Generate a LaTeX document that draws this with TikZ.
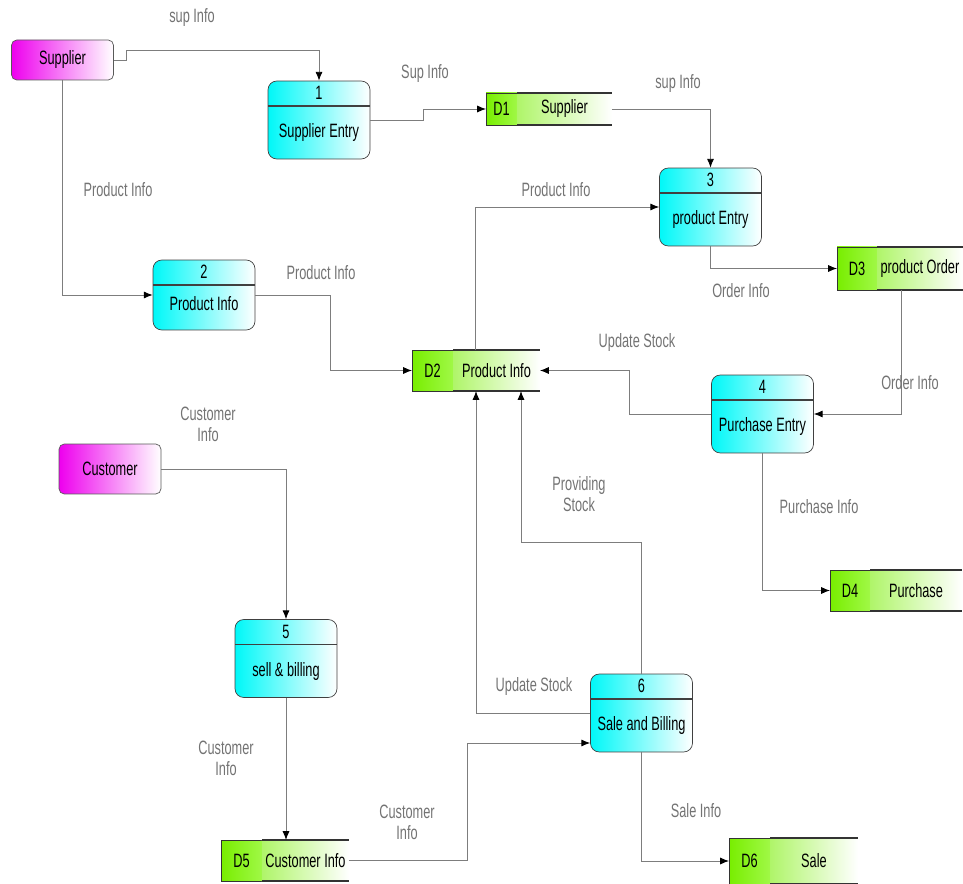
\documentclass[tikz,border=0pt]{standalone}
\usepackage{fontspec}
\setmainfont{Liberation Sans}[FakeStretch=0.66]
\usetikzlibrary{arrows.meta,positioning}

\definecolor{procblue}{RGB}{0,248,248}
\definecolor{entpink}{RGB}{238,0,238}
\definecolor{idgreen}{RGB}{120,238,0}
\definecolor{idgreenr}{RGB}{160,248,70}
\definecolor{namegreen}{RGB}{175,245,105}
\definecolor{flowgray}{RGB}{125,125,125}

\begin{document}
\begin{tikzpicture}[x=0.02cm,y=-0.02cm,font=\fontsize{11}{12}\selectfont,
    entity/.style={rectangle,rounded corners=3pt,draw=black!65,left color=entpink,
        right color=white,minimum width=2.04cm,minimum height=0.8cm,inner sep=0pt},
    process/.style 2 args={rectangle,rounded corners=5pt,draw=black!75,
        left color=procblue,right color=white,minimum width=2.04cm,
        minimum height=1.56cm,inner sep=0pt,
        path picture={\draw[black!75,line width=0.9pt]
            ([yshift=-0.5cm]path picture bounding box.north west) --
            ([yshift=-0.5cm]path picture bounding box.north east);},
        label={[anchor=center,yshift=-0.25cm]north:#1},
        label={[anchor=center,yshift=0.53cm]south:#2}},
    storeid/.style={rectangle,draw=black!80,left color=idgreen,right color=idgreenr,
        minimum width=0.82cm,minimum height=0.82cm,inner sep=0pt,outer sep=0pt},
    storename/.style={rectangle,left color=namegreen,right color=white,
        minimum height=0.82cm,inner sep=0pt,outer sep=0pt},
    storeline/.style={draw=black!80,line width=0.6pt},
    flow/.style={draw=flowgray,line width=0.5pt,
        -{Latex[length=5pt,width=4pt,color=black]}},
    lbl/.style={text=black!55,align=center}]

    \useasboundingbox (0,0) rectangle (963,884);

    % external entities
    \node[entity]  (sup)  at (62.5,60)  {Supplier};
    \node[entity,minimum height=1cm] (cus) at (110,469) {Customer};

    % processes
    \node[process={1}{Supplier Entry}]  (p1) at (319,120)   {};
    \node[process={2}{Product Info},minimum height=1.4cm] (p2) at (204,295) {};
    \node[process={3}{product Entry}]   (p3) at (710.5,207) {};
    \node[process={4}{Purchase Entry}]  (p4) at (762.5,414) {};
    \node[process={5}{sell \& billing}] (p5) at (286,658.5) {};
    \node[process={6}{Sale and Billing}] (p6) at (641.5,713) {};

    % data stores
    \node[storeid,minimum width=0.62cm,minimum height=0.64cm] (d1) at (501.5,109) {D1};
    \node[storename,minimum width=1.9cm,minimum height=0.64cm,right=0pt of d1] (d1name) {Supplier};
    \node[storeid]                        (d2) at (432.5,370.5) {D2};
    \node[storename,minimum width=1.74cm,right=0pt of d2] (d2name) {Product Info};
    \node[storeid,minimum width=0.8cm,minimum height=0.86cm] (d3) at (857,268.5) {D3};
    \node[storename,minimum width=1.72cm,minimum height=0.86cm,right=0pt of d3] (d3name) {product Order};
    \node[storeid,minimum width=0.8cm]    (d4) at (850,590.5) {D4};
    \node[storename,minimum width=1.84cm,right=0pt of d4] (d4name) {Purchase};
    \node[storeid]                        (d5) at (241.5,860.5) {D5};
    \node[storename,minimum width=1.74cm,right=0pt of d5] (d5name) {Customer Info};
    \node[storeid,minimum height=0.92cm]  (d6) at (749.5,861) {D6};
    \node[storename,minimum width=1.76cm,minimum height=0.92cm,right=0pt of d6] (d6name) {Sale};

    \foreach \i in {1,...,6}
        \draw[storeline] (d\i name.north west) -- (d\i name.north east)
                         (d\i name.south west) -- (d\i name.south east);

    % data flows
    \draw[flow] (sup.east) -- ++(13,0) -- ++(0,-10) -| (p1.north);
    \draw[flow] (sup.south) |- (p2.west);
    \draw[flow] (p1.east) -- ++(53,0) |- (d1.west);
    \draw[flow] (d1name.east) -| (p3.north);
    \draw[flow] ([shift={(22,0)}]d2name.north west) |- (p3.west);
    \draw[flow] (p3.south) |- (d3.west);
    \draw[flow] (p2.east) -- ++(75,0) |- (d2.west);
    \draw[flow] ([shift={(24,0)}]d3name.south west) |- (p4.east);
    \draw[flow] (p4.west) -- ++(-82,0) |- (d2name.east);
    \draw[flow] (p4.south) |- (d4.west);
    \draw[flow] (cus.east) -| (p5.north);
    \draw[flow] (p6.north) -- ++(0,-131) -| ([shift={(68,0)}]d2name.south west);
    \draw[flow] (p6.west) -| ([shift={(23,0)}]d2name.south west);
    \draw[flow] (p5.south) -- (p5.south |- d5name.north);
    \draw[flow] (d5name.east) -- ++(118,0) |- ([shift={(0,30)}]p6.west);
    \draw[flow] (p6.south) |- (d6.west);

    % flow labels
    \node[lbl] (l1)  at (192,18)  {sup Info};
    \node[lbl] (l2)  at (118,190) {Product Info};
    \node[lbl] (l3)  at (425,74)  {Sup Info};
    \node[lbl] (l4)  at (678,84)  {sup Info};
    \node[lbl] (l5)  at (556,190) {Product Info};
    \node[lbl] (l6)  at (741,291) {Order Info};
    \node[lbl] (l7)  at (321,273) {Product Info};
    \node[lbl] (l8)  at (910,383) {Order Info};
    \node[lbl] (l9)  at (637,343) {Update Stock};
    \node[lbl] (l10) at (819,507) {Purchase Info};
    \node[lbl] (l11) at (208,424) {Customer\\Info};
    \node[lbl] (l12) at (579,494) {Providing\\Stock};
    \node[lbl] (l13) at (534,687) {Update Stock};
    \node[lbl] (l14) at (226,758) {Customer\\Info};
    \node[lbl] (l15) at (407,822) {Customer\\Info};
    \node[lbl] (l16) at (696,811) {Sale Info};
\end{tikzpicture}
\end{document}
